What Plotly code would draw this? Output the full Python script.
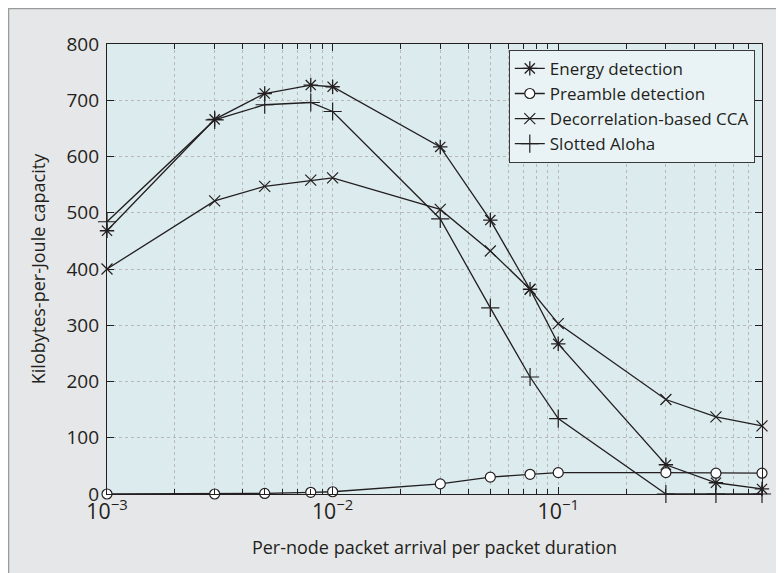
import plotly.graph_objects as go

x_vals = [0.001, 0.003, 0.005, 0.008, 0.01, 0.03, 0.05, 0.075, 0.1, 0.3, 0.5, 0.8]

energy_detection = [468, 666, 712, 727, 724, 617, 487, 364, 267, 52, 20, 9]
preamble_detection = [0, 0, 1, 3, 4, 18, 30, 35, 38, 38, 37, 37]
decorrelation_cca = [400, 521, 547, 558, 562, 506, 432, 364, 303, 168, 137, 121]
slotted_aloha = [484, 665, 692, 696, 680, 489, 331, 208, 134, 0, 0, 0]

series_names = ["Energy detection", "Preamble detection", "Decorrelation-based CCA", "Slotted Aloha"]
y_ticks = [0, 100, 200, 300, 400, 500, 600, 700, 800]

LINE = "#231f20"
FONT = "Open Sans, Noto Sans, sans-serif"

# figure is placed at (8, 8) in the page by the default body margin
W, H = 776, 565
L, T, R, B = 99, 36, 22, 79
PW, PH = W - L - R, H - T - B

fig = go.Figure()
styles = [
    dict(symbol="asterisk-open", size=12, color=LINE, line=dict(color=LINE, width=1.3)),
    dict(symbol="circle", size=10, color="white", line=dict(color=LINE, width=1.2)),
    dict(symbol="x-thin-open", size=11, color=LINE, line=dict(color=LINE, width=1.2)),
    dict(symbol="cross-thin-open", size=13, color=LINE, line=dict(color=LINE, width=1.2)),
]
for name, ys, mk in zip(series_names,
                        [energy_detection, preamble_detection, decorrelation_cca, slotted_aloha],
                        styles):
    fig.add_trace(go.Scatter(
        x=x_vals, y=ys, name=name, mode="lines+markers",
        line=dict(color=LINE, width=1.3), marker=mk, cliponaxis=False,
    ))

# outer gray frame lines (top and left edges)
fig.add_shape(type="line", xref="paper", yref="paper",
              x0=(0 - L) / PW, x1=(W + 10 - L) / PW,
              y0=(PH + T - 0) / PH, y1=(PH + T - 0) / PH,
              line=dict(color="#9a9a9a", width=2.5), layer="below")
fig.add_shape(type="line", xref="paper", yref="paper",
              x0=(0 - L) / PW, x1=(0 - L) / PW,
              y0=(PH + T + 10) / PH, y1=(PH + T - H - 10) / PH,
              line=dict(color="#9a9a9a", width=2.5), layer="below")

fig.update_layout(
    width=W, height=H,
    margin=dict(l=L, r=R, t=T, b=B),
    paper_bgcolor="#e6e7e8",
    plot_bgcolor="#dcebee",
    font=dict(family=FONT, color="#231f20", size=16),
    showlegend=True,
    legend=dict(x=0.989, y=0.987, xanchor="right", yanchor="top",
                bgcolor="#e9f3f5", bordercolor="#3a3a3a", borderwidth=1,
                font=dict(size=17, family=FONT), tracegroupgap=0,
                itemwidth=30),
)
fig.update_xaxes(
    type="log", range=[-3, -0.09691],
    dtick=1, exponentformat="power", showexponent="all",
    ticks="inside", ticklen=7, tickcolor="#231f20", mirror="allticks",
    showline=True, linecolor="#231f20", linewidth=1.3,
    showgrid=True, gridcolor="#b8b8b8", griddash="dot", gridwidth=1,
    tickfont=dict(size=17), ticklabelstandoff=-1,
    minor=dict(dtick="D1", ticks="inside", ticklen=5, tickcolor="#231f20",
               showgrid=True, gridcolor="#b8b8b8", griddash="dot", gridwidth=1),
    title=dict(text="Per-node packet arrival per packet duration", font=dict(size=18), standoff=17),
    zeroline=False,
)
fig.update_yaxes(
    range=[0, 800], tickvals=y_ticks,
    ticks="inside", ticklen=7, tickcolor="#231f20", mirror="allticks",
    showline=True, linecolor="#231f20", linewidth=1.3,
    showgrid=True, gridcolor="#b8b8b8", griddash="dot", gridwidth=1,
    tickfont=dict(size=19), ticklabelstandoff=3,
    title=dict(text="Kilobytes-per-Joule capacity", font=dict(size=18), standoff=16),
    zeroline=False,
)

fig.write_html("out.html")
